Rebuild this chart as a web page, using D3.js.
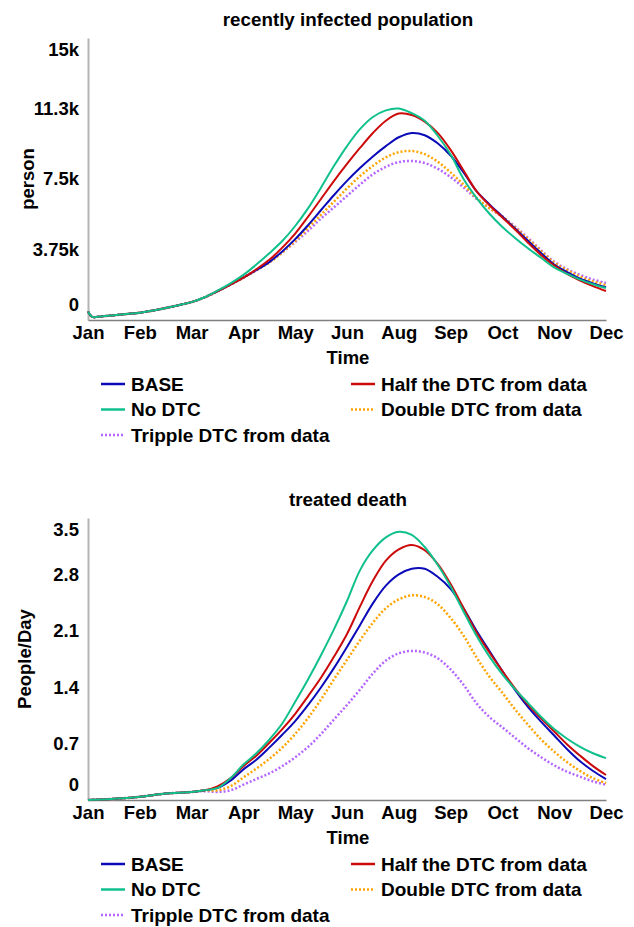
<!DOCTYPE html>
<html><head><meta charset="utf-8">
<script src="https://cdn.jsdelivr.net/npm/d3@7"></script>
<style>
body{margin:0;background:#fff;}
text{font-family:"Liberation Sans",Arial,sans-serif;font-weight:bold;fill:#000;}
</style></head>
<body><svg id="c" width="634" height="927"></svg>
<script>
// shared time positions (month-tick units, 0 = Jan ... 10 = Dec)
const timePts = [0,0.08,0.25,0.5,0.75,1,1.25,1.5,1.75,2,2.25,2.5,2.75,3,3.25,3.5,3.75,4,4.25,4.5,4.75,5,5.25,5.5,5.75,6,6.25,6.5,6.75,7,7.25,7.5,7.75,8,8.25,8.5,8.75,9,9.25,9.5,9.75,10];
const monthLabels = ["Jan","Feb","Mar","Apr","May","Jun","Aug","Sep","Oct","Nov","Dec"];
const seriesNames = ["BASE","Half the DTC from data","No DTC","Double DTC from data","Tripple DTC from data"];
const seriesColors = ["#0a0ab8","#cc0a0a","#10c08c","#ffa500","#b466ff"];
const seriesDashed = [false,false,false,true,true];

// chart 1: recently infected population (person)
const infTicks = [0,3750,7500,11250,15000];
const infTickLabels = ["0","3.75k","7.5k","11.3k","15k"];
const infBase = [450,170,190,250,320,390,500,640,790,950,1200,1530,1880,2250,2650,3080,3650,4300,5050,5850,6650,7400,8080,8700,9250,9720,9950,9830,9400,8750,7850,6850,6150,5500,4850,4200,3550,2950,2550,2200,1950,1750];
const infHalf = [450,170,190,250,320,390,500,640,790,950,1200,1530,1880,2250,2700,3200,3850,4600,5500,6450,7400,8300,9150,9950,10600,10980,10900,10550,9950,9050,7950,6850,6100,5450,4800,4100,3450,2900,2450,2100,1800,1540];
const infNo = [450,170,190,250,320,390,500,640,790,950,1210,1560,1950,2400,2950,3550,4200,5000,5950,7050,8200,9250,10150,10800,11150,11250,11000,10600,9800,8800,7500,6500,5650,4950,4350,3800,3300,2800,2450,2150,1900,1700];
const infDouble = [450,170,190,250,320,390,500,640,790,950,1200,1530,1880,2250,2650,3050,3600,4200,4900,5600,6300,7000,7650,8200,8650,8930,8990,8820,8420,7850,7200,6500,5950,5500,4900,4300,3650,3050,2650,2300,2050,1860];
const infTripple = [450,170,190,250,320,390,500,640,790,950,1200,1530,1880,2250,2650,3080,3600,4150,4750,5400,6000,6600,7200,7750,8150,8400,8460,8350,8050,7600,7050,6450,5950,5500,4950,4350,3700,3100,2700,2400,2150,1970];

// chart 2: treated death (People/Day)
const dthTicks = [0,0.7,1.4,2.1,2.8,3.5];
const dthTickLabels = ["0","0.7","1.4","2.1","2.8","3.5"];
const dthBase = [0,0.003,0.006,0.015,0.025,0.04,0.06,0.08,0.09,0.1,0.12,0.15,0.24,0.38,0.5,0.65,0.81,0.98,1.18,1.4,1.64,1.9,2.17,2.44,2.66,2.8,2.87,2.87,2.77,2.62,2.38,2.1,1.85,1.6,1.36,1.15,0.97,0.8,0.63,0.48,0.36,0.26];
const dthHalf = [0,0.003,0.006,0.015,0.025,0.04,0.06,0.08,0.09,0.1,0.12,0.17,0.27,0.42,0.55,0.71,0.88,1.07,1.29,1.52,1.78,2.06,2.4,2.72,2.97,3.11,3.165,3.1,2.93,2.68,2.38,2.08,1.83,1.6,1.38,1.18,1.01,0.85,0.69,0.55,0.42,0.31];
const dthNo = [0,0.003,0.006,0.015,0.025,0.04,0.06,0.08,0.09,0.1,0.12,0.15,0.27,0.44,0.58,0.75,0.95,1.22,1.5,1.8,2.12,2.47,2.85,3.1,3.26,3.33,3.29,3.14,2.92,2.65,2.34,2.04,1.78,1.56,1.37,1.2,1.03,0.88,0.76,0.66,0.58,0.52];
const dthDouble = [0,0.003,0.006,0.015,0.025,0.04,0.06,0.08,0.09,0.1,0.12,0.12,0.17,0.28,0.39,0.51,0.65,0.82,1.02,1.25,1.5,1.74,1.98,2.2,2.38,2.49,2.54,2.52,2.43,2.26,2.04,1.77,1.53,1.33,1.12,0.93,0.75,0.6,0.47,0.36,0.27,0.21];
const dthTripple = [0,0.003,0.006,0.015,0.025,0.04,0.06,0.08,0.09,0.1,0.11,0.1,0.12,0.19,0.26,0.33,0.42,0.53,0.66,0.82,1.0,1.18,1.37,1.57,1.73,1.82,1.85,1.83,1.76,1.62,1.43,1.2,1.03,0.9,0.77,0.64,0.53,0.43,0.35,0.29,0.23,0.19];

const svg = d3.select("#c");

function drawChart(cfg){
  const g = svg.append("g");
  const x = d3.scaleLinear().domain([0,10]).range([88,606]);
  const y = d3.scaleLinear().domain([0,cfg.ymax]).range([cfg.bottom,cfg.top]);

  g.append("text").attr("x",348).attr("y",cfg.top-12).attr("text-anchor","middle")
    .style("font-size","18.8px").text(cfg.title);

  const yAxis = g.append("g").attr("transform","translate(88,0)")
    .call(d3.axisLeft(y).tickValues(cfg.ticks).tickSize(0).tickPadding(9)
      .tickFormat((d,i)=>cfg.tickLabels[i]));
  yAxis.select(".domain").attr("stroke","#b4b4b4").attr("stroke-width",2);
  yAxis.selectAll(".tick text").style("font-size","18.5px").attr("font-family",null)
    .attr("dy",(d,i)=> i===0 ? "-0.5em" : (i===cfg.ticks.length-1 ? "0.95em" : "0.32em"));

  const xAxis = g.append("g").attr("transform",`translate(0,${cfg.bottom})`)
    .call(d3.axisBottom(x).tickValues(d3.range(11)).tickSize(0).tickPadding(6)
      .tickFormat((d,i)=>monthLabels[i]));
  xAxis.select(".domain").attr("stroke","#808080").attr("stroke-width",1.5);
  xAxis.selectAll(".tick text").style("font-size","18.5px").attr("font-family",null);

  g.append("text").attr("x",348).attr("y",cfg.bottom+44).attr("text-anchor","middle")
    .style("font-size","18.5px").text("Time");
  g.append("text").attr("transform",`translate(${cfg.ylabX},${(cfg.top+cfg.bottom)/2}) rotate(-90)`)
    .attr("text-anchor","middle").attr("dy","0.35em").style("font-size","18.5px").text(cfg.ylabel);

  const line = d3.line().x((d,i)=>x(timePts[i])).y(d=>y(d)).curve(d3.curveCatmullRom.alpha(0.5));
  const order = [4,3,0,1,2];
  order.forEach(k=>{
    g.append("path").datum(cfg.series[k]).attr("d",line).attr("fill","none")
      .attr("stroke",seriesColors[k]).attr("stroke-width",seriesDashed[k]?2.5:2)
      .attr("stroke-dasharray",seriesDashed[k]?"2,2":null);
  });

  const lx = [101,351], ly0 = cfg.bottom+64, dy = 25.5;
  seriesNames.forEach((n,k)=>{
    const col = k%2, row = Math.floor(k/2);
    const xx = lx[col], yy = ly0+row*dy;
    g.append("line").attr("x1",xx).attr("x2",xx+24).attr("y1",yy).attr("y2",yy)
      .attr("stroke",seriesColors[k]).attr("stroke-width",2.5)
      .attr("stroke-dasharray",seriesDashed[k]?"2,2":null);
    g.append("text").attr("x",xx+30).attr("y",yy).attr("dy","0.35em")
      .style("font-size","19px").text(n);
  });
}

drawChart({title:"recently infected population",top:38,bottom:320,ymax:15000,ticks:infTicks,tickLabels:infTickLabels,
  ylabel:"person",ylabX:28,series:[infBase,infHalf,infNo,infDouble,infTripple]});
drawChart({title:"treated death",top:518,bottom:800,ymax:3.5,ticks:dthTicks,tickLabels:dthTickLabels,
  ylabel:"People/Day",ylabX:25,series:[dthBase,dthHalf,dthNo,dthDouble,dthTripple]});
</script></body></html>
